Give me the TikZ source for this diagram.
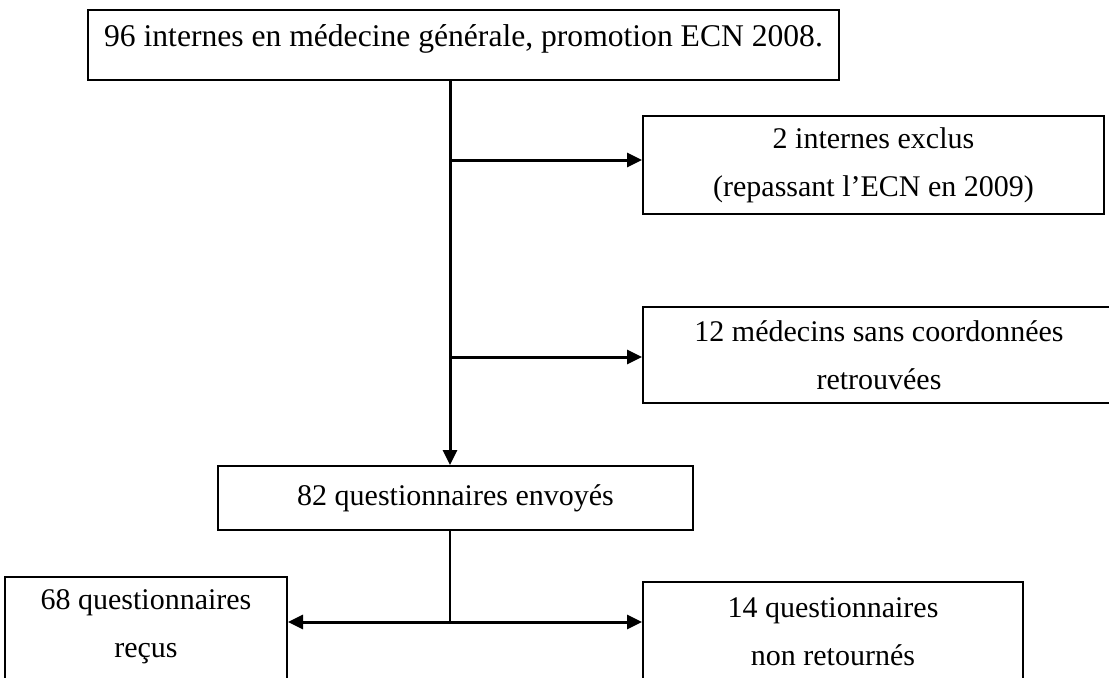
\documentclass[tikz,border=0pt]{standalone}
\usepackage{fontspec}
\setmainfont{Liberation Serif}
\usetikzlibrary{positioning, arrows.meta}

\tikzset{
  flowbox/.style={draw=black, line width=1pt, align=center, inner xsep=8pt,
    font=\fontsize{15}{24}\selectfont},
  trunkline/.style={line width=1.5pt, -{Triangle[length=7.5pt, width=7pt]}},
  thinline/.style={line width=0.8pt}
}

\begin{document}
\begin{tikzpicture}[x=0.5pt, y=-0.5pt]
  \useasboundingbox (0,0) rectangle (1109,677);
  \clip (0,0) rectangle (1109,677);
  \fill[white] (0,0) rectangle (1109,677);

  % boxes
  \node[flowbox, minimum width=373.5pt, minimum height=35pt, text depth=9pt,
    font=\fontsize{15.8}{24}\selectfont]
    (promo) at (463.5,45) {96 internes en médecine générale, promotion ECN 2008.};
  \node[flowbox, minimum width=230.5pt, minimum height=49pt]
    (exclus) at (873.5,165) {2 internes exclus\\(repassant l’ECN en 2009)};
  \node[flowbox, minimum width=236pt, minimum height=48pt]
    (perdus) at (879,355) {12 médecins sans coordonnées\\retrouvées};
  \node[flowbox, minimum width=237.5pt, minimum height=32pt]
    (envoyes) at (455.5,498) {82 questionnaires envoyés};
  \node[flowbox, minimum width=141pt, minimum height=56.5pt, text depth=10pt]
    (recus) at (146,633.5) {68 questionnaires\\reçus};
  \node[flowbox, minimum width=190pt, minimum height=54pt, text depth=4pt]
    (nonret) at (833,636) {14 questionnaires\\non retournés};

  % connectors
  \coordinate (trunk) at (450,300);
  \coordinate (fork) at (450,622);
  \draw[trunkline] (trunk |- promo.south) -- (trunk |- envoyes.north);
  \draw[trunkline] (trunk |- exclus.west) ++(0,-5) -- ([yshift=2.5pt]exclus.west);
  \draw[trunkline] (trunk |- perdus.west) ++(0,2) -- ([yshift=-1pt]perdus.west);
  \draw[thinline] (trunk |- envoyes.south) -- (fork);
  \draw[trunkline, {Triangle[length=7.5pt, width=7pt]}-{Triangle[length=7.5pt, width=7pt]}]
    (fork -| recus.east) -- (fork -| nonret.west);
\end{tikzpicture}
\end{document}
